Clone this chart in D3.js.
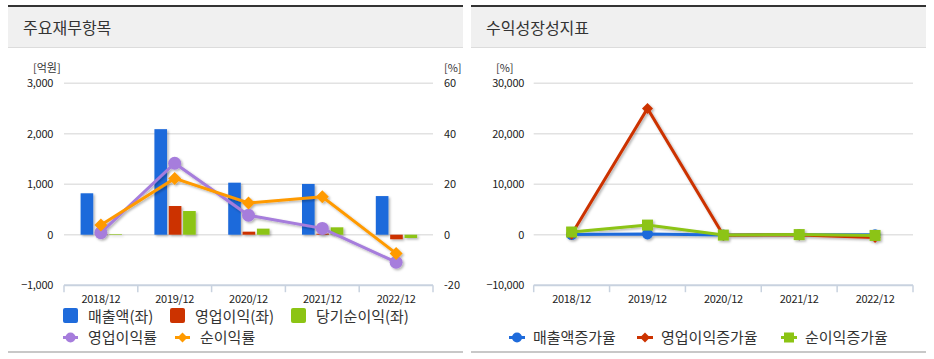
<!DOCTYPE html>
<html><head><meta charset="utf-8">
<script src="https://cdn.jsdelivr.net/npm/d3@7"></script>
<style>
html,body{margin:0;padding:0;background:#fff;}
svg{display:block;font-family:"Noto Sans CJK KR","Noto Sans",sans-serif;}
</style></head>
<body><svg id="c" width="934" height="359"></svg>
<script>
const categories = ["2018/12","2019/12","2020/12","2021/12","2022/12"];
// left chart (억원)
const sales = [820, 2090, 1030, 1005, 765];
const opIncome = [8, 568, 60, 20, -90];
const netIncome = [12, 469, 120, 146, -65];
// left chart (%)
const opMargin = [0.8, 28.3, 7.7, 2.5, -10.9];
const netMargin = [3.8, 22.3, 12.6, 15.0, -7.4];
const leftTicks = [-1000, 0, 1000, 2000, 3000];
const rightTicks = [-20, 0, 20, 40, 60];
// right chart (%)
const salesGrowth = [20, 155, -51, -3, -24];
const opGrowth = [100, 25000, -89, -67, -550];
const netGrowth = [530, 1900, -74, 22, -145];
const growthTicks = [-10000, 0, 10000, 20000, 30000];

const svg = d3.select("#c");
const defs = svg.append("defs");
const f = defs.append("filter").attr("id","sh").attr("x","-20%").attr("y","-20%").attr("width","150%").attr("height","150%");
f.append("feDropShadow").attr("dx",1.5).attr("dy",1.5).attr("stdDeviation",1).attr("flood-color","#000").attr("flood-opacity",0.3);

function panel(x0, x1, title, tx){
  svg.append("rect").attr("x",x0).attr("y",6).attr("width",x1-x0).attr("height",41).attr("fill","#f0f0f0");
  svg.append("rect").attr("x",x0).attr("y",5).attr("width",x1-x0).attr("height",2).attr("fill","#333");
  svg.append("rect").attr("x",x0).attr("y",47).attr("width",x1-x0).attr("height",1).attr("fill","#dcdcdc");
  svg.append("rect").attr("x",x0).attr("y",351).attr("width",x1-x0).attr("height",2).attr("fill","#c8c8c8");
  svg.append("text").attr("x",tx).attr("y",34).attr("font-size",16).attr("fill","#333").text(title);
}
panel(8, 463, "주요재무항목", 23);
panel(471, 926, "수익성장성지표", 486);

const yTop = 83.2, yBot = 285.2;

// ---------- LEFT CHART ----------
const L0 = 64, L1 = 433;
const yL = d3.scaleLinear().domain([-1000,3000]).range([yBot,yTop]);
const yR = d3.scaleLinear().domain([-20,60]).range([yBot,yTop]);
const xL = d3.scaleBand().domain(categories).range([L0,L1]).padding(0);
const inner = d3.scaleBand().domain(["s","o","n"]).range([xL.bandwidth()*0.225, xL.bandwidth()*0.785]).paddingInner(0.12);

const gl = svg.append("g");
gl.selectAll(".gl").data(leftTicks.filter(d=>d!==-1000)).join("line")
  .attr("x1",L0).attr("x2",L1).attr("y1",d=>yL(d)).attr("y2",d=>yL(d))
  .attr("stroke","#e2e2e2").attr("stroke-width",1.5);
gl.selectAll(".tl").data(leftTicks).join("text")
  .attr("x",53).attr("y",d=>yL(d)+4).attr("text-anchor","end").attr("font-size",11).attr("fill","#222")
  .attr("letter-spacing",-0.3).text(d=>d3.format(",")(d));
gl.selectAll(".tr").data(rightTicks).join("text")
  .attr("x",444).attr("y",d=>yR(d)+4).attr("text-anchor","start").attr("font-size",11).attr("fill","#222")
  .text(d=>d);
gl.append("text").attr("x",33).attr("y",72).attr("font-size",11).attr("fill","#333").text("[억원]");
gl.append("text").attr("x",444).attr("y",72).attr("font-size",11).attr("fill","#333").text("[%]");

// x axis
const axL = gl.append("g").attr("transform",`translate(0,${yBot})`);
axL.append("line").attr("x1",L0).attr("x2",L1).attr("stroke","#c8d2df").attr("stroke-width",2);
axL.selectAll(".tk").data(categories.map(c=>xL(c)).concat([L1])).join("line")
  .attr("x1",d=>d).attr("x2",d=>d).attr("y1",0).attr("y2",7).attr("stroke","#c8d2df").attr("stroke-width",1.5);
axL.selectAll(".lb").data(categories).join("text")
  .attr("x",d=>xL(d)+xL.bandwidth()/2).attr("y",18).attr("text-anchor","middle").attr("font-size",11).attr("fill","#222")
  .attr("letter-spacing",-0.3).text(d=>d);

const barSeries = [
  {k:"s", vals:sales, color:"#1f6bdb"},
  {k:"o", vals:opIncome, color:"#cc3300"},
  {k:"n", vals:netIncome, color:"#8cc414"}
];
const bars = gl.append("g").attr("filter","url(#sh)");
barSeries.forEach(s=>{
  bars.selectAll(null).data(categories).join("rect")
    .attr("x",(c)=>xL(c)+inner(s.k))
    .attr("width",inner.bandwidth())
    .attr("y",(c,i)=>yL(Math.max(0,s.vals[i])))
    .attr("height",(c,i)=>Math.abs(yL(s.vals[i])-yL(0)))
    .attr("fill",s.color);
});

const cx = c=>xL(c)+xL.bandwidth()/2;
function diamond(g, x, y, r, color){
  g.append("path").attr("d",`M${x},${y-r}L${x+r},${y}L${x},${y+r}L${x-r},${y}Z`).attr("fill",color);
}
const lineG = gl.append("g").attr("filter","url(#sh)");
const ln = d3.line().x((d,i)=>cx(categories[i])).y(d=>yR(d));
lineG.append("path").attr("d",ln(opMargin)).attr("fill","none").attr("stroke","#a67ddc").attr("stroke-width",3);
opMargin.forEach((v,i)=>lineG.append("circle").attr("cx",cx(categories[i])).attr("cy",yR(v)).attr("r",6.5).attr("fill","#a67ddc"));
lineG.append("path").attr("d",ln(netMargin)).attr("fill","none").attr("stroke","#ff9a00").attr("stroke-width",3);
netMargin.forEach((v,i)=>diamond(lineG, cx(categories[i]), yR(v), 6.5, "#ff9a00"));

// legend left
const lg = svg.append("g").attr("font-size",15).attr("fill","#333");
const leg1 = [{x:63,t:"매출액(좌)",c:"#1f6bdb"},{x:170,t:"영업이익(좌)",c:"#cc3300"},{x:291,t:"당기순이익(좌)",c:"#8cc414"}];
leg1.forEach(d=>{
  lg.append("rect").attr("x",d.x).attr("y",308).attr("width",15).attr("height",15).attr("rx",2).attr("fill",d.c);
  lg.append("text").attr("x",d.x+25).attr("y",321.5).attr("fill","#333").text(d.t);
});
lg.append("line").attr("x1",63).attr("x2",78).attr("y1",337.5).attr("y2",337.5).attr("stroke","#a67ddc").attr("stroke-width",3);
lg.append("circle").attr("cx",70.5).attr("cy",337.5).attr("r",5).attr("fill","#a67ddc");
lg.append("text").attr("x",88).attr("y",343).attr("fill","#333").text("영업이익률");
lg.append("line").attr("x1",175).attr("x2",190).attr("y1",337.5).attr("y2",337.5).attr("stroke","#ff9a00").attr("stroke-width",3);
diamond(lg,182.5,337.5,5,"#ff9a00");
lg.append("text").attr("x",200).attr("y",343).attr("fill","#333").text("순이익률");

// ---------- RIGHT CHART ----------
const R0 = 533.7, R1 = 913;
const yG = d3.scaleLinear().domain([-10000,30000]).range([yBot,yTop]);
const xR = d3.scaleBand().domain(categories).range([R0,R1]).padding(0);
const gr = svg.append("g");
gr.selectAll(".gl").data(growthTicks.filter(d=>d!==-10000)).join("line")
  .attr("x1",R0).attr("x2",R1).attr("y1",d=>yG(d)).attr("y2",d=>yG(d))
  .attr("stroke","#e2e2e2").attr("stroke-width",1.5);
gr.selectAll(".tl").data(growthTicks).join("text")
  .attr("x",524).attr("y",d=>yG(d)+4).attr("text-anchor","end").attr("font-size",11).attr("fill","#222")
  .attr("letter-spacing",-0.3).text(d=>d3.format(",")(d));
gr.append("text").attr("x",496).attr("y",72).attr("font-size",11).attr("fill","#333").text("[%]");
const axR = gr.append("g").attr("transform",`translate(0,${yBot})`);
axR.append("line").attr("x1",R0).attr("x2",R1).attr("stroke","#c8d2df").attr("stroke-width",2);
axR.selectAll(".tk").data(categories.map(c=>xR(c)).concat([R1])).join("line")
  .attr("x1",d=>d).attr("x2",d=>d).attr("y1",0).attr("y2",7).attr("stroke","#c8d2df").attr("stroke-width",1.5);
axR.selectAll(".lb").data(categories).join("text")
  .attr("x",d=>xR(d)+xR.bandwidth()/2).attr("y",18).attr("text-anchor","middle").attr("font-size",11).attr("fill","#222")
  .attr("letter-spacing",-0.3).text(d=>d);

const cxR = c=>xR(c)+xR.bandwidth()/2;
const lnR = d3.line().x((d,i)=>cxR(categories[i])).y(d=>yG(d));
const lr = gr.append("g").attr("filter","url(#sh)");
lr.append("path").attr("d",lnR(salesGrowth)).attr("fill","none").attr("stroke","#1f6bdb").attr("stroke-width",3);
salesGrowth.forEach((v,i)=>lr.append("circle").attr("cx",cxR(categories[i])).attr("cy",yG(v)).attr("r",5.5).attr("fill","#1f6bdb"));
lr.append("path").attr("d",lnR(opGrowth)).attr("fill","none").attr("stroke","#cc3300").attr("stroke-width",3);
opGrowth.forEach((v,i)=>diamond(lr, cxR(categories[i]), yG(v), 5.5, "#cc3300"));
lr.append("path").attr("d",lnR(netGrowth)).attr("fill","none").attr("stroke","#8cc414").attr("stroke-width",3);
netGrowth.forEach((v,i)=>lr.append("rect").attr("x",cxR(categories[i])-5.5).attr("y",yG(v)-5.5).attr("width",11).attr("height",11).attr("fill","#8cc414"));

const lg2 = svg.append("g").attr("font-size",15).attr("fill","#333");
const leg2 = [{x:509,t:"매출액증가율",c:"#1f6bdb",m:"c"},{x:637,t:"영업이익증가율",c:"#cc3300",m:"d"},{x:781,t:"순이익증가율",c:"#8cc414",m:"s"}];
leg2.forEach(d=>{
  lg2.append("line").attr("x1",d.x).attr("x2",d.x+16).attr("y1",337.5).attr("y2",337.5).attr("stroke",d.c).attr("stroke-width",3);
  const mx = d.x+8;
  if(d.m==="c") lg2.append("circle").attr("cx",mx).attr("cy",337.5).attr("r",5).attr("fill",d.c);
  else if(d.m==="d") diamond(lg2,mx,337.5,5,d.c);
  else lg2.append("rect").attr("x",mx-5).attr("y",332.5).attr("width",10).attr("height",10).attr("fill",d.c);
  lg2.append("text").attr("x",d.x+24).attr("y",343).attr("fill","#333").text(d.t);
});
</script></body></html>
